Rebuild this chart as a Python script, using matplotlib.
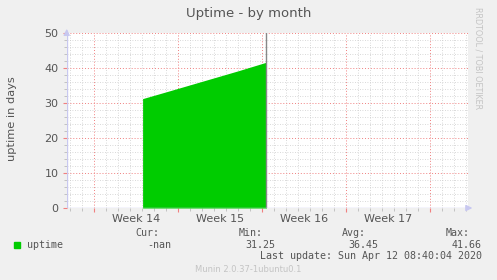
import numpy as np
import matplotlib
matplotlib.use('Agg')
import matplotlib.pyplot as plt
from matplotlib.transforms import blended_transform_factory

# days since Monday of week 14 (Mar 30 2020)
days = [4.03, 6.0, 8.0, 10.0, 12.0, 14.36]
uptime = [31.25, 33.2, 35.2, 37.2, 39.2, 41.66]
now_day = 14.36

week_labels = ['Week 14', 'Week 15', 'Week 16', 'Week 17']
week_starts = [0, 7, 14, 21]
y_ticks = [0, 10, 20, 30, 40, 50]

legend_name = 'uptime'
stat_heads = ['Cur:', 'Min:', 'Avg:', 'Max:']
stat_vals = ['-nan', '31.25', '36.45', '41.66']
last_update = 'Last update: Sun Apr 12 08:40:04 2020'

W, H = 497, 280
bg = '#F0F0F0'
txt = '#555555'
green = '#00CC00'
axis_col = '#C8C8F0'

fig = plt.figure(figsize=(W / 100, H / 100), dpi=100, facecolor=bg)
ax = fig.add_axes([66.7 / W, 72 / H, (468 - 66.7) / W, 175 / H])
ax.set_facecolor('white')

xmin, xmax = -2.30, 31.17
ax.set_xlim(xmin, xmax)
ax.set_ylim(0, 50)

# grid
minor_x = [d for d in range(-2, 32) if d % 7 != 0]
major_x = [0, 7, 14, 21, 28]
minor_y = [v for v in range(2, 50, 2) if v % 10 != 0]
for d in minor_x:
    ax.axvline(d, color='#CCCCCC', lw=0.6, ls=(0, (1, 2)), zorder=1)
for v in minor_y:
    ax.axhline(v, color='#CCCCCC', lw=0.6, ls=(0, (1, 2)), zorder=1)
for d in major_x:
    ax.axvline(d, color='#F08080', lw=0.7, ls=(0, (1, 2)), zorder=1)
for v in y_ticks[1:]:
    ax.axhline(v, color='#F08080', lw=0.7, ls=(0, (1, 2)), zorder=1)

ax.fill_between(days, uptime, 0, color=green, lw=0, zorder=2)
ax.axvline(now_day, color='#888888', lw=1.0, zorder=3)

for s in ax.spines.values():
    s.set_visible(False)
ax.axhline(0, color=axis_col, lw=1.0, zorder=4)
ax.axvline(xmin, color=axis_col, lw=1.0, zorder=4)
ax.annotate('', xy=(1.018, 0), xytext=(0.99, 0), xycoords='axes fraction',
            arrowprops=dict(arrowstyle='-|>', color=axis_col, lw=1, mutation_scale=9),
            annotation_clip=False)
ax.annotate('', xy=(0, 1.04), xytext=(0, 0.99), xycoords='axes fraction',
            arrowprops=dict(arrowstyle='-|>', color=axis_col, lw=1, mutation_scale=9),
            annotation_clip=False)

# small tick marks on the axes
ax.set_xticks(major_x)
ax.set_xticklabels([])
ax.set_xticks(minor_x, minor=True)
ax.tick_params(axis='x', which='major', length=3, width=0.8, color='#F08080')
ax.tick_params(axis='x', which='minor', length=2, width=0.6, color='#BBBBBB')
ax.set_yticks(y_ticks)
ax.set_yticklabels([str(v) for v in y_ticks], fontsize=8, color=txt)
ax.set_yticks(minor_y, minor=True)
ax.tick_params(axis='y', which='major', length=3, width=0.8, color='#F08080', pad=3)
ax.tick_params(axis='y', which='minor', length=2, width=0.6, color='#BBBBBB')

tr = blended_transform_factory(ax.transData, ax.transAxes)
for lab, s in zip(week_labels, week_starts):
    ax.text(s + 3.5, -0.035, lab, transform=tr, ha='center', va='top', fontsize=8, color=txt)

fig.text(0.5, 1 - 13 / H, 'Uptime - by month', ha='center', va='center', fontsize=9.5, color=txt)
fig.text(12 / W, 1 - 118.5 / H, 'uptime in days', rotation=90, ha='center', va='center',
         fontsize=8.2, color=txt)
fig.text(478 / W, 1 - 58 / H, 'RRDTOOL / TOBI OETIKER', rotation=270, ha='center', va='center',
         fontsize=5.8, color='#C4C4C4')

mono = 'DejaVu Sans Mono'
fs = 7.2
fig.patches.append(plt.Rectangle((14 / W, 1 - 248 / H), 6 / W, 6 / H, transform=fig.transFigure,
                                 color=green, figure=fig))
fig.text(27 / W, 1 - 245 / H, legend_name, ha='left', va='center', fontsize=fs, family=mono, color=txt)
head_x = [159, 263, 366, 470]
val_x = [171, 275, 378, 482]
for h, hx in zip(stat_heads, head_x):
    fig.text(hx / W, 1 - 233 / H, h, ha='right', va='center', fontsize=fs, family=mono, color=txt)
for v, vx in zip(stat_vals, val_x):
    fig.text(vx / W, 1 - 245 / H, v, ha='right', va='center', fontsize=fs, family=mono, color=txt)
fig.text(482 / W, 1 - 256 / H, last_update, ha='right', va='center', fontsize=fs, family=mono, color=txt)
fig.text(0.5, 1 - 269 / H, 'Munin 2.0.37-1ubuntu0.1', ha='center', va='center', fontsize=6,
         color='#C4C4C4')

fig.savefig('out.png', dpi=100, facecolor=bg)
